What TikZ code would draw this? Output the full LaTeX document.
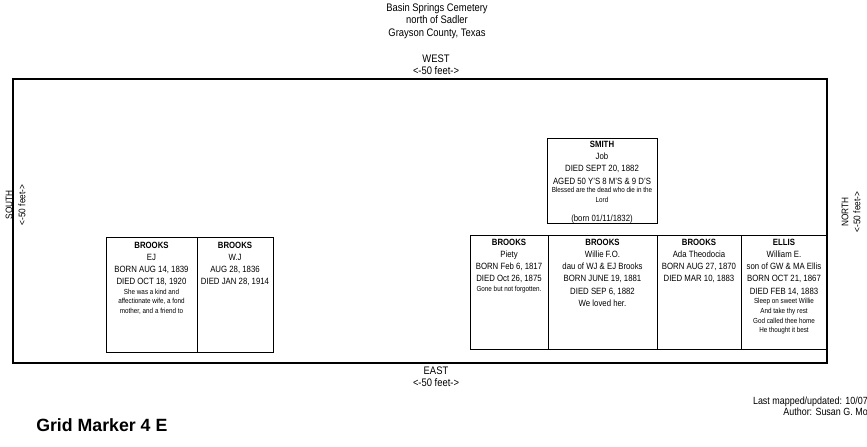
\documentclass[tikz,border=0pt]{standalone}
\usepackage{fontspec}
\setmainfont{Liberation Sans}[FakeStretch=0.86]
\newfontfamily\gridfont{Liberation Sans}
\usetikzlibrary{positioning}

\begin{document}
\begin{tikzpicture}[x=0.75pt,y=0.75pt,yscale=-1,xscale=1,
  plot/.style={draw, line width=0.75pt, inner sep=0pt, outer sep=0pt, anchor=north west},
  epitaph/.style={align=center, inner sep=0pt, font=\fontsize{6.8}{9.2}\selectfont},
  verse/.style={align=center, inner sep=0pt, font=\fontsize{5.5}{7.4}\selectfont},
  heading/.style={align=center, inner sep=0.75pt, font=\fontsize{8.2}{9.2}\selectfont},
  side/.style={inner sep=0.75pt, rotate=90, font=\fontsize{7.2}{8}\selectfont}]
\path [fill=white, use as bounding box] (0,0) rectangle (867,446);

%Shape: Rectangle [id:ground]
\node [plot, line width=1.4pt, minimum width=814*0.75pt, minimum height=284*0.75pt] (ground) at (13,79) {};

%Shape: Rectangle [id:left row]
\node [plot, minimum width=91*0.75pt, minimum height=115*0.75pt] (ej) at (106,237) {};
\node [plot, anchor=west, right=0pt of ej, minimum width=76*0.75pt, minimum height=115*0.75pt] (wj) {};

%Shape: Rectangle [id:right row]
\node [plot, minimum width=78*0.75pt, minimum height=114*0.75pt] (piety) at (470,235) {};
\node [plot, anchor=west, right=0pt of piety, minimum width=109*0.75pt, minimum height=114*0.75pt] (willie) {};
\node [plot, anchor=west, right=0pt of willie, minimum width=84*0.75pt, minimum height=114*0.75pt] (ada) {};
\node [plot, anchor=west, right=0pt of ada, minimum width=86*0.75pt, minimum height=114*0.75pt] (ellis) {};

%Shape: Rectangle [id:smith]
\node [plot, minimum width=110*0.75pt, minimum height=85*0.75pt] (smith) at (547,138) {};

% Text Node
\node [epitaph, below=3.4pt of ej.north] (ejtext) {\textbf{BROOKS}\\EJ\\BORN AUG 14, 1839\\DIED OCT 18, 1920};
\node [verse, below=1.6pt of ejtext] (ejverse) {She was a kind and\\affectionate wife, a fond\\mother, and a friend to};
% Text Node
\node [epitaph, below=3.4pt of wj.north] (wjtext) {\textbf{BROOKS}\\W.J\\AUG 28, 1836\\DIED JAN 28, 1914};
% Text Node
\node [epitaph, below=2.6pt of piety.north] (pietytext) {\textbf{BROOKS}\\Piety\\BORN Feb 6, 1817\\DIED Oct 26, 1875};
\node [verse, below=2pt of pietytext] (pietyverse) {Gone but not forgotten.};
% Text Node
\node [epitaph, below=2.6pt of willie.north] (willietext) {\textbf{BROOKS}\\Willie F.O.\\dau of WJ \& EJ Brooks\\BORN JUNE 19, 1881\\DIED SEP 6, 1882\\We loved her.};
% Text Node
\node [epitaph, below=2.6pt of ada.north] (adatext) {\textbf{BROOKS}\\Ada Theodocia\\BORN AUG 27, 1870\\DIED MAR 10, 1883};
% Text Node
\node [epitaph, below=2.6pt of ellis.north] (ellistext) {\textbf{ELLIS}\\William E.\\son of GW \& MA Ellis\\BORN OCT 21, 1867\\DIED FEB 14, 1883};
\node [verse, below=1.6pt of ellistext] (ellisverse) {Sleep on sweet Willie\\And take thy rest\\God called thee home\\He thought it best};
% Text Node
\node [epitaph, below=2pt of smith.north] (smithtext) {\textbf{SMITH}\\Job\\DIED SEPT 20, 1882\\AGED 50 Y'S 8 M'S \& 9 D'S};
\node [verse, below=2pt of smithtext] (smithverse) {Blessed are the dead who die in the\\Lord};
\node [epitaph, below=8.5pt of smithverse] (smithborn) {(born 01/11/1832)};

% Text Node
\node [heading] (title) at (437,21) {Basin Springs Cemetery\\north of Sadler\\Grayson County, Texas};
\node [heading] (west) at (436,65) {WEST\\{<-50 feet->}};
\node [heading] (east) at (436,377) {EAST\\{<-50 feet->}};
\node [side] (south) at (9,205) {SOUTH};
\node [side] (southft) at (22,205) {<-50 feet->};
\node [side] (north) at (845,212) {NORTH};
\node [side] (northft) at (857,212) {<-50 feet->};
\node [heading, align=right, anchor=north east, font=\fontsize{7.8}{8.2}\selectfont] (updated) at (869,396) {Last mapped/updated: 10/07\\Author: Susan G. Mo};
\node [anchor=west, inner sep=0pt, font=\gridfont\bfseries\fontsize{13.3}{15}\selectfont] (grid) at (36,425) {Grid Marker 4 E};

\end{tikzpicture}
\end{document}
